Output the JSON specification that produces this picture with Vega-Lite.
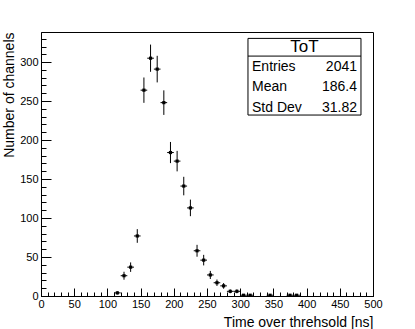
{
  "$schema": "https://vega.github.io/schema/vega-lite/v6.json",
  "width": 332,
  "height": 264,
  "autosize": {"type": "none"},
  "padding": {"left": 41, "top": 32, "right": 42, "bottom": 33},
  "config": {
    "font": "Liberation Sans",
    "view": {"stroke": "black", "strokeWidth": 1},
    "axis": {"grid": false, "domainColor": "black", "tickColor": "black", "labelColor": "black", "titleColor": "black", "labelFont": "Liberation Sans", "titleFont": "Liberation Sans", "titleFontWeight": "normal"}
  },
  "data": {
    "values": [
      {"t": 115, "n": 4, "lo": 2, "hi": 6, "x0": 110, "x1": 120},
      {"t": 125, "n": 26, "lo": 20.9, "hi": 31.1, "x0": 120, "x1": 130},
      {"t": 135, "n": 37, "lo": 30.92, "hi": 43.08, "x0": 130, "x1": 140},
      {"t": 145, "n": 77, "lo": 68.23, "hi": 85.77, "x0": 140, "x1": 150},
      {"t": 155, "n": 264, "lo": 247.75, "hi": 280.25, "x0": 150, "x1": 160},
      {"t": 165, "n": 305, "lo": 287.54, "hi": 322.46, "x0": 160, "x1": 170},
      {"t": 175, "n": 291, "lo": 273.94, "hi": 308.06, "x0": 170, "x1": 180},
      {"t": 185, "n": 248, "lo": 232.25, "hi": 263.75, "x0": 180, "x1": 190},
      {"t": 195, "n": 184, "lo": 170.44, "hi": 197.56, "x0": 190, "x1": 200},
      {"t": 205, "n": 173, "lo": 159.85, "hi": 186.15, "x0": 200, "x1": 210},
      {"t": 215, "n": 141, "lo": 129.13, "hi": 152.87, "x0": 210, "x1": 220},
      {"t": 225, "n": 113, "lo": 102.37, "hi": 123.63, "x0": 220, "x1": 230},
      {"t": 235, "n": 58, "lo": 50.38, "hi": 65.62, "x0": 230, "x1": 240},
      {"t": 245, "n": 46, "lo": 39.22, "hi": 52.78, "x0": 240, "x1": 250},
      {"t": 255, "n": 27, "lo": 21.8, "hi": 32.2, "x0": 250, "x1": 260},
      {"t": 265, "n": 17, "lo": 12.88, "hi": 21.12, "x0": 260, "x1": 270},
      {"t": 275, "n": 13, "lo": 9.39, "hi": 16.61, "x0": 270, "x1": 280},
      {"t": 285, "n": 6, "lo": 3.55, "hi": 8.45, "x0": 280, "x1": 290},
      {"t": 295, "n": 6, "lo": 3.55, "hi": 8.45, "x0": 290, "x1": 300},
      {"t": 305, "n": 1, "lo": 0, "hi": 2, "x0": 300, "x1": 310},
      {"t": 315, "n": 1, "lo": 0, "hi": 2, "x0": 310, "x1": 320},
      {"t": 345, "n": 1, "lo": 0, "hi": 2, "x0": 340, "x1": 350},
      {"t": 375, "n": 1, "lo": 0, "hi": 2, "x0": 370, "x1": 380},
      {"t": 385, "n": 1, "lo": 0, "hi": 2, "x0": 380, "x1": 390}
    ]
  },
  "layer": [
    {
      "mark": {"type": "rule", "color": "black", "strokeWidth": 1},
      "encoding": {
        "x": {"field": "t", "type": "quantitative", "scale": {"domain": [0, 500], "nice": false, "zero": false},
          "axis": {"orient": "bottom", "values": [0,10,20,30,40,50,60,70,80,90,100,110,120,130,140,150,160,170,180,190,200,210,220,230,240,250,260,270,280,290,300,310,320,330,340,350,360,370,380,390,400,410,420,430,440,450,460,470,480,490,500], "labels": false, "domain": false, "tickSize": -4, "title": null}},
        "y": {"field": "lo", "type": "quantitative", "scale": {"domain": [0, 338.6], "nice": false},
          "axis": {"orient": "left", "values": [0,10,20,30,40,50,60,70,80,90,100,110,120,130,140,150,160,170,180,190,200,210,220,230,240,250,260,270,280,290,300,310,320,330], "labels": false, "domain": false, "tickSize": -5, "title": null}},
        "y2": {"field": "hi"}
      }
    },
    {
      "mark": {"type": "rule", "color": "black", "strokeWidth": 1},
      "encoding": {
        "x": {"field": "x0", "type": "quantitative",
          "axis": {"orient": "bottom", "values": [0,50,100,150,200,250,300,350,400,450,500], "tickSize": -8, "labelPadding": 10, "labelFontSize": 11, "labelFlush": false,
            "title": "Time over threhsold [ns]", "titleAnchor": "end", "titleFontSize": 14, "titlePadding": 6}},
        "x2": {"field": "x1"},
        "y": {"field": "n", "type": "quantitative",
          "axis": {"orient": "left", "values": [0,50,100,150,200,250,300], "tickSize": -10, "labelPadding": 13, "labelFontSize": 11, "labelFlush": false,
            "title": "Number of channels", "titleAnchor": "end", "titleFontSize": 14, "titlePadding": 3}}
      }
    },
    {
      "mark": {"type": "point", "shape": "square", "filled": true, "color": "black", "size": 10, "opacity": 1},
      "encoding": {
        "x": {"field": "t", "type": "quantitative", "axis": null},
        "y": {"field": "n", "type": "quantitative", "axis": null}
      }
    },
    {
      "data": {"values": [{}]},
      "mark": {"type": "rect", "fill": "white", "stroke": "black", "strokeWidth": 1},
      "encoding": {
        "x": {"datum": 311.7, "type": "quantitative", "axis": null},
        "x2": {"datum": 481.9},
        "y": {"datum": 330.4, "type": "quantitative", "axis": null},
        "y2": {"datum": 232.1}
      }
    },
    {
      "data": {"values": [{}]},
      "mark": {"type": "rule", "color": "black", "strokeWidth": 1},
      "encoding": {
        "x": {"datum": 311.7, "type": "quantitative", "axis": null},
        "x2": {"datum": 481.9},
        "y": {"datum": 307.7, "type": "quantitative", "axis": null}
      }
    },
    {
      "data": {"values": [{"k": "Entries", "v": "2041", "r": 1}, {"k": "Mean", "v": "186.4", "r": 2}, {"k": "Std Dev", "v": "31.82", "r": 3}]},
      "layer": [
        {
          "transform": [{"filter": "datum.r == 1"}],
          "layer": [
            {"mark": {"type": "text", "align": "left", "baseline": "middle", "fontSize": 14, "color": "black"},
              "encoding": {"x": {"datum": 317.8, "type": "quantitative", "axis": null}, "y": {"datum": 293.2, "type": "quantitative", "axis": null}, "text": {"field": "k"}}},
            {"mark": {"type": "text", "align": "right", "baseline": "middle", "fontSize": 14, "color": "black"},
              "encoding": {"x": {"datum": 475.9, "type": "quantitative", "axis": null}, "y": {"datum": 293.2, "type": "quantitative", "axis": null}, "text": {"field": "v"}}}
          ]
        },
        {
          "transform": [{"filter": "datum.r == 2"}],
          "layer": [
            {"mark": {"type": "text", "align": "left", "baseline": "middle", "fontSize": 14, "color": "black"},
              "encoding": {"x": {"datum": 317.8, "type": "quantitative", "axis": null}, "y": {"datum": 267.6, "type": "quantitative", "axis": null}, "text": {"field": "k"}}},
            {"mark": {"type": "text", "align": "right", "baseline": "middle", "fontSize": 14, "color": "black"},
              "encoding": {"x": {"datum": 475.9, "type": "quantitative", "axis": null}, "y": {"datum": 267.6, "type": "quantitative", "axis": null}, "text": {"field": "v"}}}
          ]
        },
        {
          "transform": [{"filter": "datum.r == 3"}],
          "layer": [
            {"mark": {"type": "text", "align": "left", "baseline": "middle", "fontSize": 14, "color": "black"},
              "encoding": {"x": {"datum": 317.8, "type": "quantitative", "axis": null}, "y": {"datum": 241.0, "type": "quantitative", "axis": null}, "text": {"field": "k"}}},
            {"mark": {"type": "text", "align": "right", "baseline": "middle", "fontSize": 14, "color": "black"},
              "encoding": {"x": {"datum": 475.9, "type": "quantitative", "axis": null}, "y": {"datum": 241.0, "type": "quantitative", "axis": null}, "text": {"field": "v"}}}
          ]
        }
      ]
    },
    {
      "data": {"values": [{"title": "ToT"}]},
      "mark": {"type": "text", "align": "center", "baseline": "middle", "fontSize": 17, "color": "black"},
      "encoding": {
        "x": {"datum": 396.8, "type": "quantitative", "axis": null},
        "y": {"datum": 318.9, "type": "quantitative", "axis": null},
        "text": {"field": "title"}
      }
    }
  ],
  "resolve": {"axis": {"x": "independent", "y": "independent"}}
}
